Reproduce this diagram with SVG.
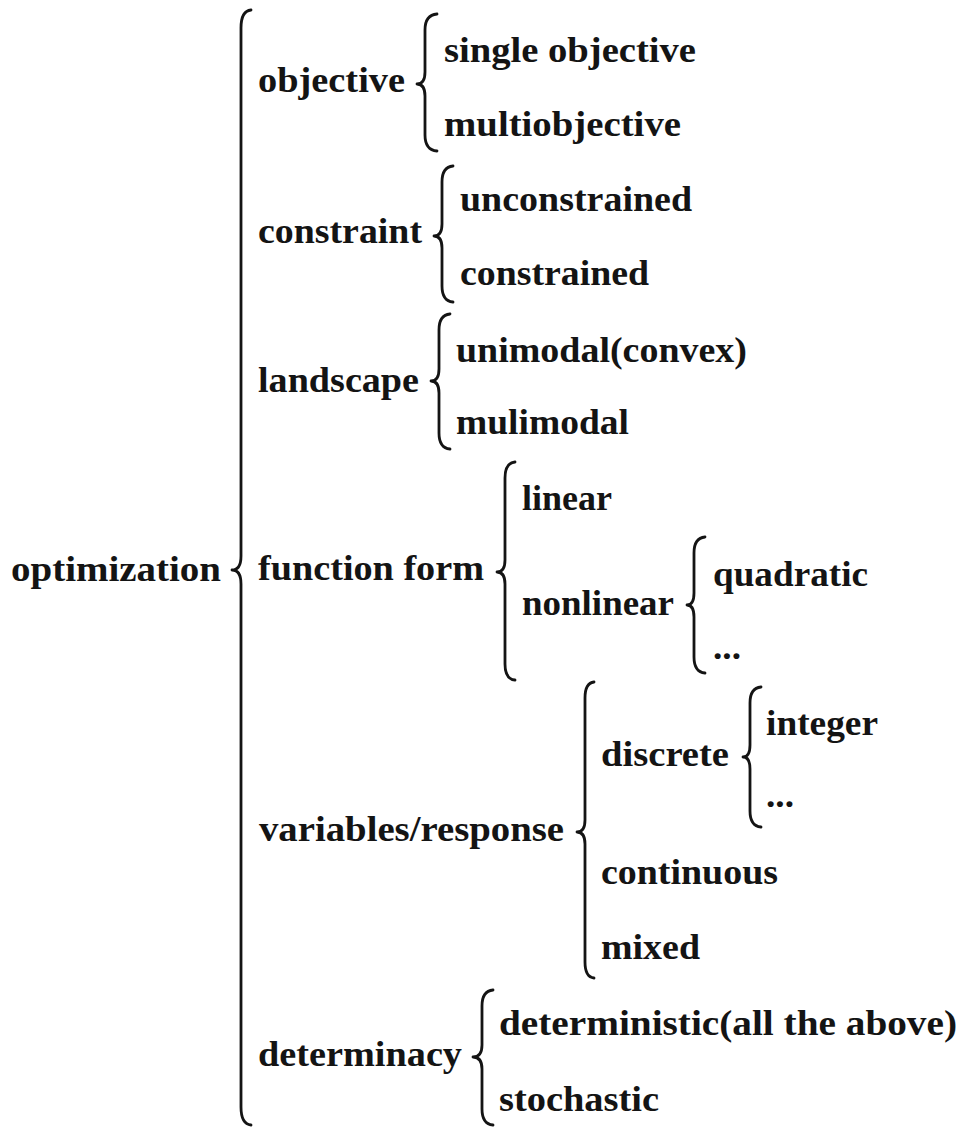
<svg xmlns="http://www.w3.org/2000/svg" width="962" height="1128" viewBox="0 0 962 1128">
  <style>
    text { font-family: "Liberation Serif", "Times New Roman", serif; font-weight: bold; font-size: 35px; fill: #141414; }
    .brace { fill: none; stroke: #141414; stroke-width: 2.8; stroke-linecap: round; stroke-linejoin: round; }
  </style>
  <rect width="962" height="1128" fill="#ffffff"/>

  <!-- braces grouping each level of the taxonomy -->
  <g id="connectors">
    <!-- optimization -->
    <path class="brace" d="M251,10 Q241,11 241,28 L241,556 Q241,570 232,570 Q241,570 241,584 L241,1107 Q241,1124 251,1125"/>
    <!-- objective -->
    <path class="brace" d="M437,14 Q425,15 425,30 L425,72 Q425,84 417,84 Q425,84 425,96 L425,135 Q425,150 437,151"/>
    <!-- constraint -->
    <path class="brace" d="M453,166 Q442,167 442,182 L442,224 Q442,236 434,236 Q442,236 442,248 L442,286 Q442,301 453,302"/>
    <!-- landscape -->
    <path class="brace" d="M450,314 Q439,315 439,330 L439,369 Q439,381 431,381 Q439,381 439,393 L439,433 Q439,448 450,449"/>
    <!-- function form -->
    <path class="brace" d="M515,462 Q505,463 505,478 L505,560 Q505,572 497,572 Q505,572 505,584 L505,664 Q505,679 515,680"/>
    <!-- nonlinear -->
    <path class="brace" d="M705,537 Q694,538 694,553 L694,593 Q694,605 687,605 Q694,605 694,617 L694,657 Q694,672 705,673"/>
    <!-- variables/response -->
    <path class="brace" d="M594,682 Q585,683 585,698 L585,820 Q585,832 577,832 Q585,832 585,844 L585,962 Q585,977 594,978"/>
    <!-- discrete -->
    <path class="brace" d="M761,687 Q750,688 750,703 L750,745 Q750,757 743,757 Q750,757 750,769 L750,811 Q750,826 761,827"/>
    <!-- determinacy -->
    <path class="brace" d="M493,990 Q482,991 482,1006 L482,1045 Q482,1057 473,1057 Q482,1057 482,1069 L482,1109 Q482,1124 493,1125"/>
  </g>

  <g id="optimization"><text x="11" y="581" textLength="210" lengthAdjust="spacingAndGlyphs">optimization</text></g>

  <g id="objective"><text x="258" y="92" textLength="147" lengthAdjust="spacingAndGlyphs">objective</text></g>
  <g id="single-objective"><text x="444" y="62" textLength="252" lengthAdjust="spacingAndGlyphs">single objective</text></g>
  <g id="multiobjective"><text x="444" y="136" textLength="237" lengthAdjust="spacingAndGlyphs">multiobjective</text></g>

  <g id="constraint"><text x="258" y="243" textLength="164" lengthAdjust="spacingAndGlyphs">constraint</text></g>
  <g id="unconstrained"><text x="460" y="211" textLength="232" lengthAdjust="spacingAndGlyphs">unconstrained</text></g>
  <g id="constrained"><text x="460" y="285" textLength="189" lengthAdjust="spacingAndGlyphs">constrained</text></g>

  <g id="landscape"><text x="258" y="392" textLength="161" lengthAdjust="spacingAndGlyphs">landscape</text></g>
  <g id="unimodal"><text x="456" y="362" textLength="291" lengthAdjust="spacingAndGlyphs">unimodal(convex)</text></g>
  <g id="mulimodal"><text x="456" y="434" textLength="173" lengthAdjust="spacingAndGlyphs">mulimodal</text></g>

  <g id="function-form"><text x="258" y="580" textLength="226" lengthAdjust="spacingAndGlyphs">function form</text></g>
  <g id="linear"><text x="522" y="510" textLength="90" lengthAdjust="spacingAndGlyphs">linear</text></g>
  <g id="nonlinear"><text x="522" y="615" textLength="152" lengthAdjust="spacingAndGlyphs">nonlinear</text></g>
  <g id="quadratic"><text x="713" y="586" textLength="155" lengthAdjust="spacingAndGlyphs">quadratic</text></g>
  <g id="nonlinear-other"><text x="713" y="659" textLength="28" lengthAdjust="spacingAndGlyphs">...</text></g>

  <g id="variables-response"><text x="259" y="841" textLength="305" lengthAdjust="spacingAndGlyphs">variables/response</text></g>
  <g id="discrete"><text x="601" y="766" textLength="128" lengthAdjust="spacingAndGlyphs">discrete</text></g>
  <g id="integer"><text x="766" y="735" textLength="112" lengthAdjust="spacingAndGlyphs">integer</text></g>
  <g id="discrete-other"><text x="766" y="807" textLength="28" lengthAdjust="spacingAndGlyphs">...</text></g>
  <g id="continuous"><text x="601" y="884" textLength="177" lengthAdjust="spacingAndGlyphs">continuous</text></g>
  <g id="mixed"><text x="601" y="959" textLength="99" lengthAdjust="spacingAndGlyphs">mixed</text></g>

  <g id="determinacy"><text x="258" y="1066" textLength="204" lengthAdjust="spacingAndGlyphs">determinacy</text></g>
  <g id="deterministic"><text x="499" y="1035" textLength="458" lengthAdjust="spacingAndGlyphs">deterministic(all the above)</text></g>
  <g id="stochastic"><text x="499" y="1111" textLength="160" lengthAdjust="spacingAndGlyphs">stochastic</text></g>
</svg>
